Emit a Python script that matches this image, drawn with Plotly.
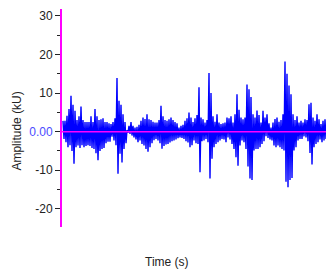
import plotly.graph_objects as go

# Waveform envelope: per time step, peak-high then peak-low (kU)
upper = [2.8, 2.8, 4.1, 5.9, 9.3, 7.0, 5.4, 3.0, 4.0, 6.5, 3.0, 2.5, 2.5, 2.5, 4.0, 2.5,
         5.9, 4.0, 3.0, 3.2, 3.5, 2.5, 2.5, 2.2, 2.0, 2.5, 3.5, 13.9, 8.0, 7.0, 4.5, 2.5,
         0.4, 1.5, 2.5, 1.5, 1.1, 1.3, 1.8, 2.8, 3.7, 3.3, 4.5, 3.2, 3.0, 2.6, 2.4, 2.4,
         3.0, 6.7, 4.0, 3.0, 2.8, 3.2, 3.7, 3.0, 2.5, 2.2, 1.1, 1.5, 1.8, 2.8, 3.5, 5.0,
         3.7, 2.5, 3.5, 4.3, 11.5, 3.7, 3.2, 2.4, 3.0, 15.2, 10.0, 4.0, 2.6, 4.5, 2.4, 2.0,
         2.2, 2.4, 3.7, 3.5, 4.0, 2.4, 4.5, 9.7, 5.7, 3.7, 3.2, 3.7, 12.2, 11.0, 9.0, 4.5,
         3.7, 5.5, 4.3, 2.4, 5.4, 3.7, 4.5, 2.2, 1.1, 2.4, 3.3, 3.7, 2.6, 3.0, 4.5, 18.2,
         15.0, 12.0, 9.7, 4.5, 3.0, 4.0, 2.4, 2.8, 2.4, 3.2, 3.0, 7.1, 7.5, 3.7, 2.8, 4.5,
         3.2, 2.0, 2.8, 3.2]
lower = [-1.9, -2.7, -4.0, -3.5, -5.0, -8.3, -4.0, -3.6, -4.2, -3.5, -4.0, -3.7, -3.5, -3.7, -4.2, -4.5,
         -5.6, -7.4, -5.0, -4.5, -4.2, -3.0, -2.6, -2.6, -1.3, -2.3, -3.5, -10.9, -5.7, -8.0, -4.5, -3.0,
         -0.3, -0.6, -1.0, -1.5, -2.0, -2.7, -2.3, -3.2, -3.6, -4.5, -5.2, -4.0, -3.0, -2.2, -1.9, -2.3,
         -3.0, -4.4, -3.7, -3.3, -3.2, -2.8, -2.5, -2.3, -2.0, -1.7, -1.5, -1.6, -1.9, -2.5, -2.8, -4.0,
         -3.5, -2.3, -3.0, -3.2, -10.5, -2.5, -2.3, -1.9, -2.7, -12.1, -7.0, -4.0, -3.2, -2.7, -2.3, -1.9,
         -2.0, -2.7, -1.5, -2.0, -3.2, -4.5, -6.6, -8.8, -3.6, -2.3, -2.7, -4.5, -9.0, -12.1, -12.5, -4.9,
         -4.5, -4.5, -4.0, -3.2, -2.5, -1.2, -1.6, -2.0, -2.3, -3.6, -4.0, -3.6, -4.0, -4.5, -4.9, -13.0,
         -14.4, -12.5, -12.0, -4.9, -4.0, -2.3, -1.9, -1.9, -1.2, -1.5, -2.5, -5.5, -8.5, -4.0, -3.2, -2.7,
         -2.0, -2.7, -2.3, -1.9]

sample_period_s = 0.01
y_tick_vals = [30, 20, 10, 0, -10, -20]
y_tick_text = ["30", "20", "10", "<span style='color:#4b4bff'>0.00</span>", "-10", "-20"]
y_minor_vals = [25, 15, 5, -5, -15]
y_range = [-24.7, 31.8]

amplitude = []
for u, l in zip(upper, lower):
    amplitude.append(u)
    amplitude.append(l)
time_s = [i * sample_period_s for i in range(len(amplitude))]

fig = go.Figure()
fig.add_trace(go.Scatter(x=time_s, y=amplitude, mode="lines",
                         line=dict(color="#0000ff", width=1.4), showlegend=False,
                         hoverinfo="skip"))

fig.add_shape(type="line", xref="paper", x0=0, x1=1, yref="y", y0=0, y1=0,
              line=dict(color="#ff00ff", width=1.5), layer="above")

fig.update_layout(
    width=326, height=280,
    margin=dict(l=62, r=0, t=9, b=53),
    paper_bgcolor="white", plot_bgcolor="white",
    font=dict(family="Liberation Sans, Arial, sans-serif", size=12, color="#222222"),
    xaxis=dict(range=[-sample_period_s, time_s[-1]], showticklabels=False, ticks="",
               showgrid=False, zeroline=False, showline=False),
    yaxis=dict(range=y_range, tickmode="array", tickvals=y_tick_vals, ticktext=y_tick_text,
               ticks="outside", ticklen=5, tickwidth=1, tickcolor="#222222",
               minor=dict(tickmode="array", tickvals=y_minor_vals, ticks="outside",
                          ticklen=3, tickcolor="#222222", showgrid=False),
               showgrid=False, zeroline=False, showline=True, linecolor="#ff00ff",
               linewidth=2, tickfont=dict(size=12, color="#222222")),
    annotations=[
        dict(text="Time (s)", xref="paper", yref="paper", x=0.398, y=-0.16,
             xanchor="center", yanchor="middle", showarrow=False,
             font=dict(size=12, color="#222222")),
        dict(text="Amplitude (kU)", xref="paper", yref="paper", x=-0.1686, y=0.44,
             xanchor="center", yanchor="middle", textangle=-90, showarrow=False,
             font=dict(size=12, color="#222222")),
    ],
)

fig.write_html("out.html", config={"displayModeBar": False},
               post_script="document.body.style.margin='0';document.body.style.overflow='hidden';")
